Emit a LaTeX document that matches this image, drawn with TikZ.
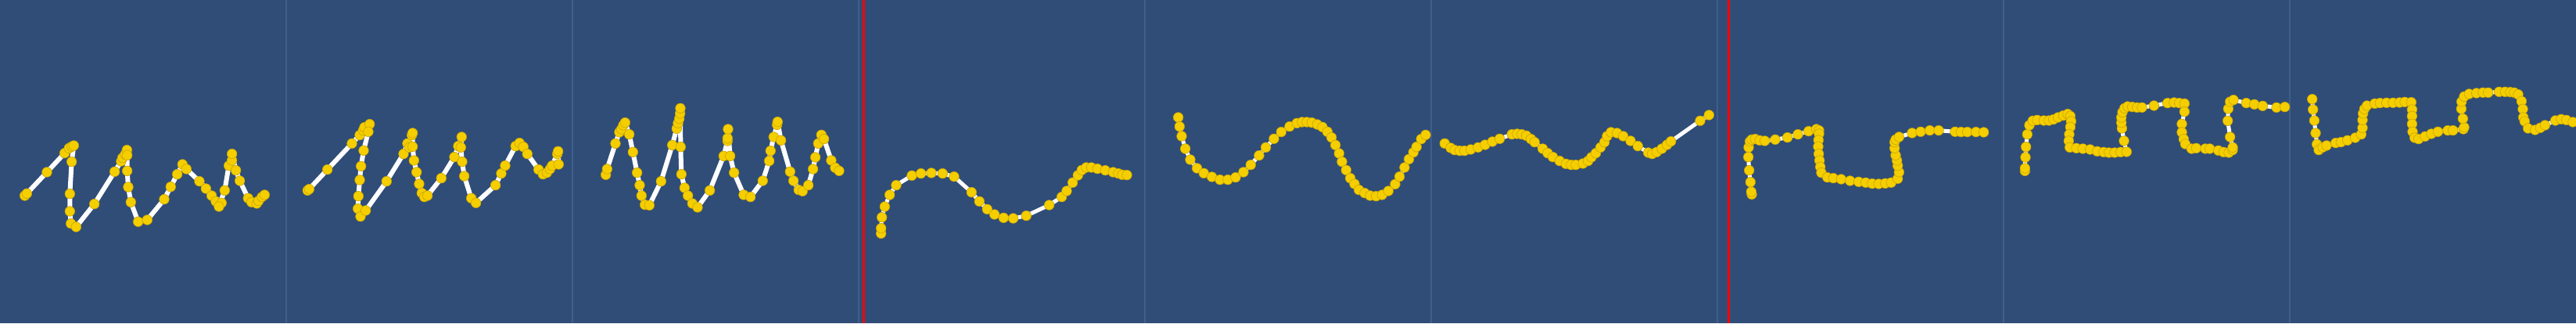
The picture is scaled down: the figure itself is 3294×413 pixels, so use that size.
\documentclass[tikz,border=0pt]{standalone}
\usepackage{tikz}

\definecolor{panelblue}{RGB}{48,77,120}
\definecolor{panelrule}{RGB}{64,94,138}
\definecolor{dotgold}{RGB}{245,206,0}
\definecolor{dotrim}{RGB}{200,165,0}

\begin{document}
\begin{tikzpicture}[x=1pt, y=-1pt,
		trace/.style={white, line width=6pt, line join=round, line cap=round},
		thin trace/.style={trace, line width=5pt},
		dots/.style={mark=*, mark size=6.3pt, mark options={fill=dotgold, draw=dotrim, line width=0.6pt}},
		panel/.style={x=0.3333pt, y=-0.3333pt}]
		\useasboundingbox (0,0) rectangle (3294,413);
		\fill [panelblue] (0,0) rectangle (3294,413);
		\foreach \i in {1,...,8}
			\draw [panelrule, line width=1.5pt] (\i*366,0) -- (\i*366,413);
		\draw [red, line width=3pt] (1104,0) -- (1104,413);
		\draw [red, line width=3pt] (2210,0) -- (2210,413);
		% panel 1
		\begin{scope}[panel, xshift=0pt, yshift=-100pt]
			\draw [trace] plot [dots] coordinates {(95,450) (103,442) (180,360) (248,287) (265,268) (275,262) (283,258) (275,320) (268,443) (268,510) (272,557) (292,570) (362,482) (440,358) (465,318) (470,305) (480,292) (487,275) (488,295) (488,355) (492,417) (502,475) (530,550) (565,543) (630,464) (655,416) (680,368) (700,330) (715,348) (765,395) (790,423) (812,450) (828,472) (850,478) (840,492) (862,430) (878,335) (890,315) (890,290) (905,353) (920,393) (952,460) (965,475) (985,480) (992,470) (1005,455) (1015,447)};
		\end{scope}
		% panel 2
		\begin{scope}[panel, xshift=366pt, yshift=-100pt]
			\draw [trace] plot [dots] coordinates {(82,430) (88,425) (158,350) (252,250) (282,218) (295,200) (300,188) (320,176) (315,205) (297,277) (287,337) (282,390) (277,452) (275,500) (285,530) (305,507) (385,395) (450,290) (465,250) (472,265) (482,218) (485,210) (485,262) (490,315) (500,360) (510,405) (520,440) (530,455) (542,450) (595,383) (645,302) (660,260) (673,225) (670,265) (675,320) (683,375) (710,460) (728,478) (803,410) (825,365) (840,335) (880,260) (895,248) (910,263) (925,290) (968,350) (985,368) (1000,362) (1012,348) (1020,335) (1040,290) (1043,280) (1045,330)};
		\end{scope}
		% panel 3
		\begin{scope}[panel, xshift=732pt, yshift=-100pt]
			\draw [trace] plot [dots] coordinates {(128,370) (133,348) (165,250) (180,207) (188,195) (195,180) (202,170) (218,215) (232,283) (248,362) (258,410) (265,450) (278,485) (295,487) (340,395) (383,256) (400,193) (405,172) (410,155) (413,135) (414,115) (415,263) (418,368) (430,420) (443,450) (460,480) (480,495) (527,430) (580,298) (595,240) (595,230) (597,195) (605,298) (620,362) (657,447) (683,455) (730,393) (755,317) (760,278) (772,225) (785,178) (787,167) (800,238) (835,358) (848,393) (868,428) (883,433) (905,410) (923,348) (932,303) (943,250) (955,217) (965,233) (993,315) (1008,343) (1023,355)};
		\end{scope}
		% panel 4
		\begin{scope}[panel, xshift=1090pt, yshift=-100pt]
			\draw [thin trace] plot [dots] coordinates {(110,595) (110,575) (113,533) (124,492) (143,447) (168,410) (228,373) (263,365) (303,363) (346,365) (390,377) (457,437) (487,472) (517,502) (545,522) (580,535) (617,537) (667,527) (755,486) (803,455) (822,432) (845,400) (865,372) (880,352) (897,342) (917,342) (940,347) (970,353) (1000,360) (1020,365) (1035,370) (1053,371)};
		\end{scope}
		% panel 5
		\begin{scope}[panel, xshift=1460pt, yshift=-100pt]
			\draw [thin trace] plot [dots] coordinates {(140,150) (145,185) (153,222) (167,270) (186,312) (212,345) (238,364) (269,378) (300,389) (330,389) (360,380) (390,360) (418,332) (450,296) (476,265) (507,232) (535,206) (567,185) (595,172) (615,168) (633,168) (652,170) (673,177) (693,187) (712,205) (728,227) (743,256) (757,288) (768,320) (784,352) (800,383) (816,405) (833,428) (855,440) (876,450) (899,452) (922,447) (946,432) (972,406) (989,377) (1008,342) (1025,310) (1042,284) (1054,263) (1072,233) (1089,217)};
		\end{scope}
		% panel 6
		\begin{scope}[panel, xshift=1830pt, yshift=-100pt]
			\draw [thin trace] plot [dots] coordinates {(52,250) (75,267) (90,275) (110,278) (128,278) (152,273) (180,265) (207,255) (235,243) (263,232) (310,215) (330,213) (348,215) (365,220) (383,233) (397,245) (428,270) (447,287) (467,302) (493,317) (517,328) (537,332) (555,332) (582,327) (602,317) (615,303) (632,287) (650,265) (665,245) (675,222) (690,207) (713,210) (737,222) (765,240) (793,260) (833,285) (848,290) (865,283) (885,270) (905,255) (920,242) (1032,163) (1066,141)};
		\end{scope}
		% panel 7
		\begin{scope}[panel, xshift=2200pt, yshift=-100pt]
			\draw [thin trace] plot [dots] coordinates {(120,445) (118,435) (115,398) (110,353) (107,302) (108,265) (113,242) (120,235) (133,233) (150,238) (170,240) (210,235) (257,227) (297,215) (338,203) (368,195) (378,200) (378,213) (376,237) (375,262) (377,290) (380,315) (383,340) (387,362) (410,380) (433,383) (463,387) (497,393) (530,397) (557,400) (582,404) (607,405) (632,403) (655,400) (680,385) (685,360) (680,335) (677,315) (672,295) (668,268) (668,245) (672,235) (685,225) (735,210) (768,205) (803,200) (837,200) (900,205) (923,206) (947,206) (980,206) (1010,207)};
		\end{scope}
		% panel 8
		\begin{scope}[panel, xshift=2560pt, yshift=-100pt]
			\draw [thin trace] plot [dots] coordinates {(88,355) (88,345) (90,303) (92,263) (97,215) (105,180) (118,163) (135,160) (160,162) (180,162) (197,158) (215,150) (235,143) (252,137) (262,145) (265,165) (262,187) (258,215) (256,240) (260,265) (285,268) (310,270) (338,273) (365,280) (390,283) (410,285) (432,285) (455,283) (478,282) (468,240) (460,192) (458,170) (458,150) (462,130) (470,115) (482,108) (500,110) (518,112) (537,112) (583,105) (635,95) (660,93) (680,95) (700,97) (700,128) (690,175) (690,207) (697,233) (703,252) (727,270) (745,268) (780,270) (797,270) (830,277) (850,283) (870,285) (885,275) (885,265) (875,225) (866,163) (868,117) (875,90) (888,83) (937,95) (968,100) (1000,106) (1053,112) (1085,110)};
		\end{scope}
		% panel 9
		\begin{scope}[panel, xshift=2920pt, yshift=-80pt]
			\draw [thin trace] plot [dots] coordinates {(110,140) (113,180) (118,222) (123,270) (128,313) (135,335) (150,325) (165,318) (200,308) (220,305) (245,298) (275,288) (298,275) (303,250) (303,220) (305,195) (310,178) (320,165) (350,157) (370,155) (395,154) (420,154) (445,153) (465,151) (490,152) (493,180) (493,205) (493,235) (495,265) (503,288) (518,293) (543,283) (567,273) (592,265) (630,260) (650,260) (690,255) (693,248) (688,215) (682,177) (683,150) (693,130) (712,120) (740,117) (765,115) (785,115) (827,112) (850,112) (870,113) (885,115) (900,122) (913,148) (918,178) (920,210) (925,225) (938,252) (965,258) (985,250) (1003,240) (1043,222) (1065,217) (1085,220) (1110,228)};
		\end{scope}
	\end{tikzpicture}
\end{document}
